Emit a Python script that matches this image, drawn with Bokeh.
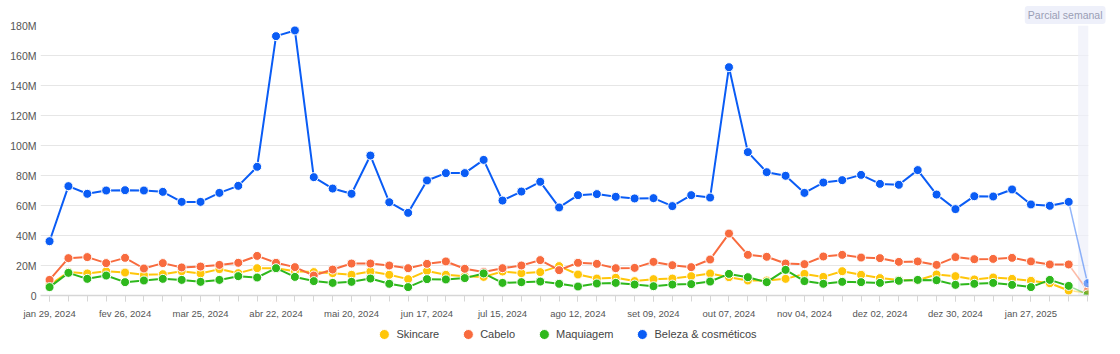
from bokeh.plotting import figure
from bokeh.layouts import column
from bokeh.models import FixedTicker, BoxAnnotation, Legend, LegendItem, Range1d, Title
from bokeh.embed import file_html
from bokeh.resources import INLINE

# ---- data (weekly, starting jan 29, 2024) ----
weeks = list(range(56))

skincare = [7.0, 15.6, 14.7, 16.2, 15.3, 13.8, 14.2, 16.2, 14.7, 17.6, 14.9, 18.2, 18.2, 16.2,
            15.6, 14.9, 13.8, 16.0, 13.8, 10.9, 16.4, 13.8, 12.9, 12.4, 16.0, 14.9, 15.6, 19.6,
            14.0, 11.3, 11.8, 9.6, 10.9, 11.3, 12.9, 14.7, 12.2, 10.0, 10.0, 11.1, 14.4, 12.4,
            16.2, 13.8, 11.6, 10.4, 10.2, 14.0, 12.9, 10.7, 12.0, 11.1, 9.8, 8.2, 3.3, 1.6]

cabelo = [10.4, 24.9, 25.6, 21.6, 25.1, 18.0, 21.6, 18.7, 19.3, 20.4, 21.8, 26.4, 21.8, 18.9,
          13.3, 17.3, 21.3, 21.3, 20.0, 18.2, 21.1, 22.7, 17.8, 15.6, 18.2, 20.0, 23.6, 16.9,
          21.8, 21.1, 18.2, 18.4, 22.4, 20.2, 18.9, 24.0, 41.3, 27.1, 25.8, 21.3, 20.9, 26.0,
          27.1, 25.3, 24.9, 22.4, 22.7, 20.4, 25.6, 24.2, 24.4, 25.1, 22.7, 20.7, 20.7, 3.3]

maquiagem = [5.6, 15.1, 11.1, 13.3, 8.9, 10.0, 11.1, 10.4, 9.1, 10.4, 12.9, 12.0, 18.2, 12.4,
             9.6, 8.4, 9.1, 11.3, 7.8, 5.6, 10.9, 10.7, 11.6, 14.7, 8.4, 8.9, 9.3, 7.8,
             6.0, 8.0, 8.4, 7.3, 6.2, 7.3, 7.6, 9.3, 14.4, 12.2, 8.9, 17.1, 9.6, 7.8,
             9.1, 8.9, 8.4, 9.8, 10.4, 10.2, 7.1, 7.8, 8.4, 7.1, 5.6, 10.4, 6.4, 0.7]

beleza = [36.2, 72.9, 67.8, 70.0, 70.2, 70.0, 69.1, 62.4, 62.4, 68.4, 73.1, 85.8, 172.9, 176.7,
          78.9, 71.3, 67.8, 93.3, 62.2, 55.1, 76.7, 81.6, 81.6, 90.4, 63.3, 69.3, 75.8, 58.7,
          66.9, 67.6, 65.8, 64.7, 64.9, 59.6, 66.9, 65.3, 152.2, 95.6, 82.2, 79.8, 68.4, 75.3,
          76.9, 80.4, 74.4, 73.8, 83.6, 67.3, 57.6, 66.2, 66.0, 70.7, 60.7, 59.8, 62.4, 8.2]

series_names = ["Skincare", "Cabelo", "Maquiagem", "Beleza & cosméticos"]
series_colors = ["#ffc60a", "#f86b3e", "#2eb81c", "#0a5cf5"]

x_tick_pos = list(range(0, 56, 4))
x_tick_labels = ["jan 29, 2024", "fev 26, 2024", "mar 25, 2024", "abr 22, 2024", "mai 20, 2024",
                 "jun 17, 2024", "jul 15, 2024", "ago 12, 2024", "set 09, 2024", "out 07, 2024",
                 "nov 04, 2024", "dez 02, 2024", "dez 30, 2024", "jan 27, 2025"]
y_ticks_m = [0, 20, 40, 60, 80, 100, 120, 140, 160, 180]
y_tick_labels = ["0", "20M", "40M", "60M", "80M", "100M", "120M", "140M", "160M", "180M"]
partial_label = "Parcial semanal"

FONT = "Liberation Sans"

p = figure(width=1120, height=321, output_backend="svg", toolbar_location=None,
           x_range=Range1d(-0.48, 55.05), y_range=Range1d(0, 180e6),
           min_border_left=40, min_border_right=32, min_border_top=25, min_border_bottom=26)
p.outline_line_color = None
p.background_fill_color = "white"
p.border_fill_color = "white"

# partial-week band
p.add_layout(BoxAnnotation(left=weeks[-1] - 0.5, fill_color="#eef0fa", fill_alpha=0.7,
                           line_color=None, level="underlay"))

# axes
p.xaxis.ticker = FixedTicker(ticks=x_tick_pos, minor_ticks=weeks)
p.xaxis.major_label_overrides = {t: l for t, l in zip(x_tick_pos, x_tick_labels)}
p.xaxis.axis_line_color = "#d6d6d6"
p.xaxis.axis_line_width = 1.5
p.xaxis.major_tick_line_color = "#d6d6d6"
p.xaxis.minor_tick_line_color = "#d6d6d6"
p.xaxis.major_tick_in = 0
p.xaxis.major_tick_out = 6
p.xaxis.minor_tick_in = 0
p.xaxis.minor_tick_out = 6
p.xaxis.major_label_standoff = 6
p.xaxis.major_label_text_font = FONT
p.xaxis.major_label_text_font_size = "9.5px"
p.xaxis.major_label_text_color = "#555555"

yt = [v * 1e6 for v in y_ticks_m]
p.yaxis.ticker = FixedTicker(ticks=yt, minor_ticks=[])
p.yaxis.major_label_overrides = {t: l for t, l in zip(yt, y_tick_labels)}
p.yaxis.axis_line_color = None
p.yaxis.major_tick_line_color = None
p.yaxis.minor_tick_line_color = None
p.yaxis.major_tick_out = 0
p.yaxis.major_tick_in = 0
p.yaxis.major_label_standoff = 4
p.yaxis.major_label_text_font = FONT
p.yaxis.major_label_text_font_size = "10.5px"
p.yaxis.major_label_text_color = "#555555"

p.xgrid.grid_line_color = None
p.ygrid.grid_line_color = "#e6e6e6"
p.ygrid.grid_line_width = 1.2

for name, color, vals in zip(series_names, series_colors,
                             [skincare, cabelo, maquiagem, beleza]):
    ys = [v * 1e6 for v in vals]
    p.line(weeks[:-1], ys[:-1], line_color=color, line_width=2)
    p.line(weeks[-2:], ys[-2:], line_color=color, line_width=1.5, line_alpha=0.45)
    p.scatter(weeks[:-1], ys[:-1], size=9, fill_color=color, line_color="white", line_width=1)
    p.scatter(weeks[-1:], ys[-1:], size=9, fill_color=color, fill_alpha=0.55,
              line_color="white", line_width=1)

p.add_layout(Title(text=partial_label, align="right", offset=-17, standoff=3,
                   text_font=FONT, text_font_size="10.5px", text_font_style="normal",
                   text_color="#9a9eb5", background_fill_color="#eef0fa",
                   padding=3, border_radius=3), "above")

# ---- legend strip below the chart ----
lg = figure(width=1120, height=25, output_backend="svg", toolbar_location=None,
            x_range=Range1d(0, 1), y_range=Range1d(0, 1),
            x_axis_location=None, y_axis_location=None,
            min_border_left=0, min_border_right=0, min_border_top=0, min_border_bottom=0)
lg.outline_line_color = None
lg.grid.visible = False
lg.border_fill_color = "white"
items = []
for name, color in zip(series_names, series_colors):
    # legend key marker, placed outside the visible range of this strip
    r = lg.scatter(x=[-5], y=[-5], size=9, fill_color=color, line_color="white", line_width=1)
    items.append(LegendItem(label=name, renderers=[r]))
legend = Legend(items=items, orientation="horizontal", location="center",
                glyph_width=25, glyph_height=25, label_standoff=0, spacing=16,
                padding=0, margin=0, border_line_color=None, background_fill_alpha=0,
                label_text_font=FONT, label_text_font_size="11px", label_text_color="#444444")
lg.add_layout(legend, "center")

layout = column(p, lg, spacing=0)
open("out.html", "w").write(file_html(layout, INLINE))
